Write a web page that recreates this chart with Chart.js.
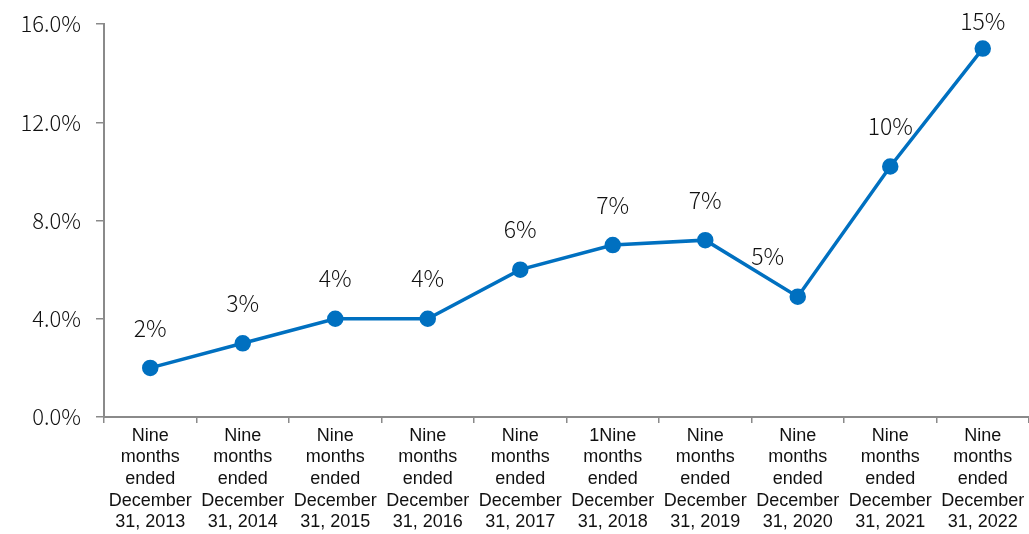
<!DOCTYPE html>
<html>
<head>
<meta charset="utf-8">
<script src="https://cdn.jsdelivr.net/npm/chart.js@4"></script>
<style>
  html, body { margin: 0; padding: 0; background: #fff; overflow: hidden; }
  #wrap { width: 1039px; height: 534px; }
</style>
</head>
<body>
<div id="wrap"><canvas id="growth_chart"></canvas></div>
<script>
const periods = [
  ['Nine', 'months', 'ended', 'December', '31, 2013'],
  ['Nine', 'months', 'ended', 'December', '31, 2014'],
  ['Nine', 'months', 'ended', 'December', '31, 2015'],
  ['Nine', 'months', 'ended', 'December', '31, 2016'],
  ['Nine', 'months', 'ended', 'December', '31, 2017'],
  ['1Nine', 'months', 'ended', 'December', '31, 2018'],
  ['Nine', 'months', 'ended', 'December', '31, 2019'],
  ['Nine', 'months', 'ended', 'December', '31, 2020'],
  ['Nine', 'months', 'ended', 'December', '31, 2021'],
  ['Nine', 'months', 'ended', 'December', '31, 2022']
];
const rates = [2.0, 3.0, 4.0, 4.0, 6.0, 7.0, 7.2, 4.9, 10.2, 15.0];
const rateLabels = ['2%', '3%', '4%', '4%', '6%', '7%', '7%', '5%', '10%', '15%'];
const yTicks = [0, 4, 8, 12, 16];

// label nudges (x px) so the 5% label sits left of the dip
const labelShift = [0, 0, 0, 0, 0, 0, 0, -30, 0, 0];

const pointLabels = {
  id: 'pointLabels',
  afterDatasetsDraw(chart) {
    const ctx = chart.ctx;
    const meta = chart.getDatasetMeta(0);
    ctx.save();
    ctx.font = '300 23px "Noto Sans CJK JP", "Noto Sans", sans-serif';
    ctx.fillStyle = '#111';
    ctx.textAlign = 'center';
    ctx.textBaseline = 'middle';
    meta.data.forEach((pt, i) => {
      const y = Math.max(pt.y - 40, 21);
      ctx.fillText(rateLabels[i], pt.x + labelShift[i], y);
    });
    ctx.restore();
  }
};

const ctx = document.getElementById('growth_chart').getContext('2d');
new Chart(ctx, {
  type: 'line',
  data: {
    labels: periods,
    datasets: [{
      data: rates,
      borderColor: '#0070C0',
      backgroundColor: '#0070C0',
      borderWidth: 3.5,
      pointRadius: 6.5,
      pointHoverRadius: 6.5,
      tension: 0
    }]
  },
  options: {
    responsive: true,
    maintainAspectRatio: false,
    animation: false,
    layout: { padding: { top: 24, right: 0, left: 0, bottom: 0 } },
    plugins: { legend: { display: false }, tooltip: { enabled: false } },
    scales: {
      x: {
        offset: true,
        grid: {
          offset: true,
          drawOnChartArea: false,
          drawTicks: true,
          tickLength: 6,
          color: '#8a8a8a',
          lineWidth: 1.5
        },
        border: { color: '#8a8a8a', width: 2 },
        ticks: {
          color: '#111',
          font: { family: '"Liberation Sans", Arial, sans-serif', size: 18, lineHeight: 1.2 },
          maxRotation: 0,
          autoSkip: false,
          padding: 2
        },
        afterFit(scale) {
          scale.height = 117;
          scale.paddingLeft = 0;
          scale.paddingRight = 0;
        }
      },
      y: {
        min: 0,
        max: 16,
        afterBuildTicks(scale) { scale.ticks = yTicks.map(v => ({ value: v })); },
        grid: {
          drawOnChartArea: false,
          drawTicks: true,
          tickLength: 8,
          color: '#8a8a8a',
          lineWidth: 1.5
        },
        border: { color: '#8a8a8a', width: 2 },
        ticks: {
          color: '#111',
          font: { family: '"Noto Sans CJK JP", "Noto Sans", sans-serif', size: 22, weight: 300 },
          padding: 15,
          callback: v => v.toFixed(1) + '%'
        },
        afterFit(scale) {
          scale.width = 104;
          scale.paddingTop = 0;
        }
      }
    }
  },
  plugins: [pointLabels]
});
</script>
</body>
</html>
